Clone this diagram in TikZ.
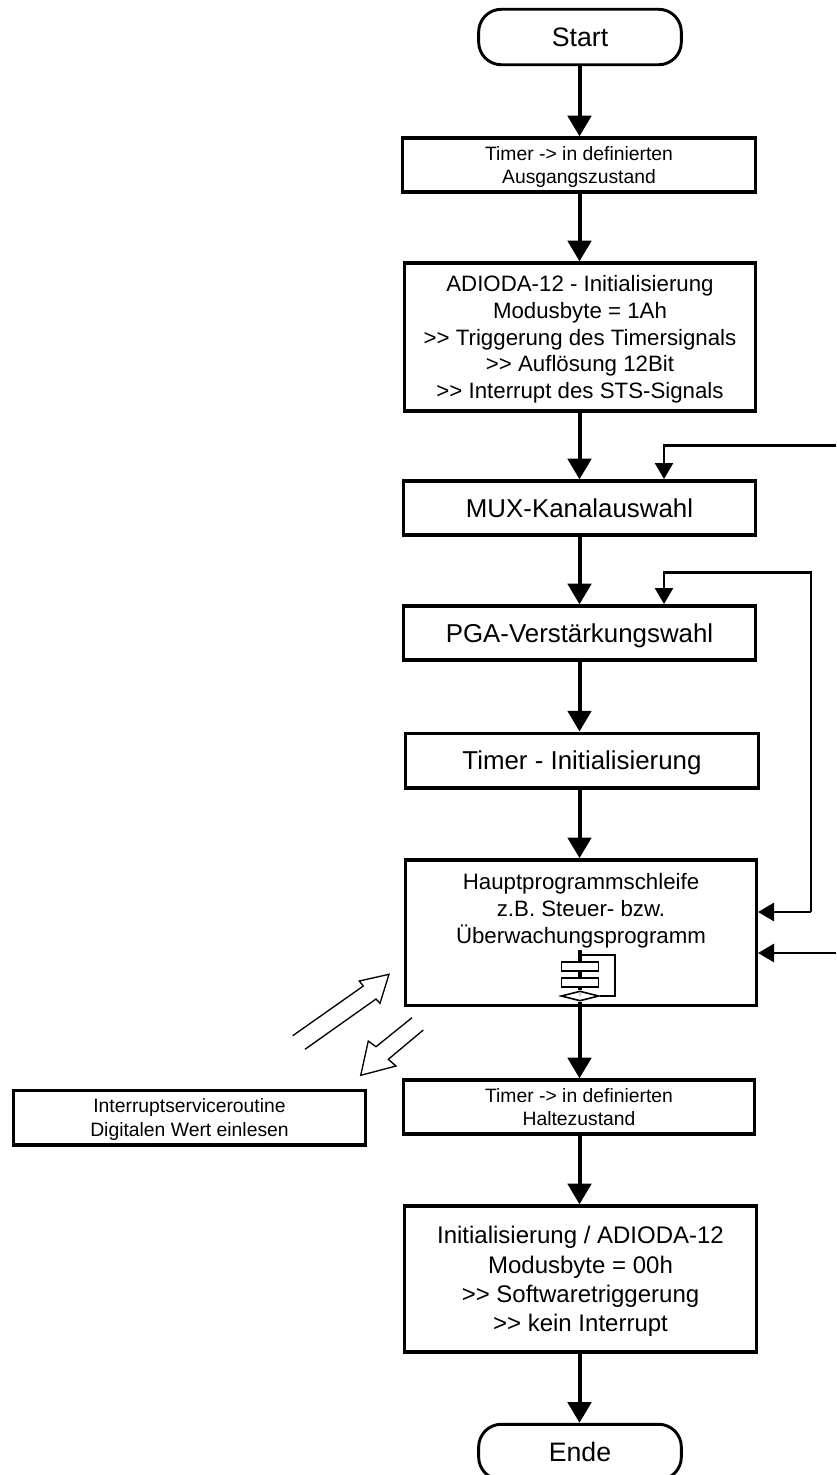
\documentclass[tikz,border=0pt]{standalone}
\usepackage{fontspec}
\setmainfont{Liberation Sans}
\usetikzlibrary{arrows.meta,shapes.geometric}
\tikzset{%
  box/.style     = {shape=rectangle, draw, line width=2.5pt, align=center, inner sep=0pt, text depth=0pt},%
  term/.style    = {box, line width=2.2pt, rounded corners=17pt, font=\fontsize{20}{24}\selectfont},%
  large/.style   = {box, font=\fontsize{19.4}{24}\selectfont},%
  medium/.style  = {box, font=\fontsize{16.7}{20}\selectfont},%
  wide/.style    = {box, font=\fontsize{18}{22}\selectfont},%
  small/.style   = {box, font=\fontsize{14.5}{17.5}\selectfont},%
  flow/.style    = {line width=3pt, -{Triangle[length=15.5pt,width=17.5pt]}},%
  back/.style    = {line width=2pt, -{Triangle[length=12pt,width=13.5pt]}},%
  mini/.style    = {shape=rectangle, draw, fill=white, line width=1.2pt, inner sep=0pt, minimum width=28pt, minimum height=7pt},%
  hollow/.style  = {line width=1pt, line join=miter}%
}
\begin{document}
\begin{tikzpicture}[x=.75pt,y=-.75pt]
	\useasboundingbox (0,0) rectangle (836,1475);
	\node [term, minimum width=152pt, minimum height=41.6pt] (start) at (580,37) {Start};
	\node [small, minimum width=265pt, minimum height=40.5pt] (timerA) at (579,165) {Timer -> in definierten\\Ausgangszustand};
	\node [medium, minimum width=263pt, minimum height=111pt] (adioda) at (580,337) {ADIODA-12 - Initialisierung\\Modusbyte = 1Ah\\>{}> Triggerung des Timersignals\\>{}> Auflösung 12Bit\\>{}> Interrupt des STS-Signals};
	\node [large, minimum width=264pt, minimum height=40.5pt] (mux) at (579.5,508) {MUX-Kanalauswahl};
	\node [large, minimum width=264pt, minimum height=40.5pt] (pga) at (579.5,633) {PGA-Verstärkungswahl};
	\node [large, minimum width=265pt, minimum height=41pt] (timerB) at (582,760.5) {Timer - Initialisierung};
	\node [medium, minimum width=263pt, minimum height=109pt] (haupt) at (581,932.5) {Hauptprogrammschleife\\z.B. Steuer- bzw.\\Überwachungsprogramm\\\mbox{}\\[-4pt]\mbox{}};
	\node [small, minimum width=263pt, minimum height=40.5pt] (timerC) at (579,1107) {Timer -> in definierten\\Haltezustand};
	\node [small, minimum width=264pt, minimum height=41pt] (isr) at (189.5,1117.5) {Interruptserviceroutine\\Digitalen Wert einlesen};
	\node [wide, minimum width=264pt, minimum height=109.5pt] (init) at (580.5,1279) {Initialisierung / ADIODA-12\\Modusbyte = 00h\\>{}> Softwaretriggerung\\>{}> kein Interrupt};
	\node [term, minimum width=152pt, minimum height=41.6pt] (ende) at (580,1452) {Ende};

	% main flow
	\coordinate (axis) at (579.5,0);
	\foreach \from/\to in {start/timerA,timerA/adioda,adioda/mux,mux/pga,pga/timerB,timerB/haupt,haupt/timerC,timerC/init,init/ende}
		\draw [flow] (\from.south -| axis) -- (\to.north -| axis);

	% feedback lines
	\coordinate (muxin) at (664,479);
	\coordinate (pgain) at (664,604);
	\coordinate (outerA) at (836,445.5);
	\coordinate (outerB) at (836,953);
	\coordinate (cornerA) at (811,572.5);
	\coordinate (hauptA) at (758,912);
	\coordinate (hauptB) at (758,953);
	\draw [back] (outerA) -| (muxin);
	\draw [back] (hauptA -| cornerA) -- (cornerA) -| (pgain);
	\draw [back] (hauptA -| cornerA) -- (hauptA);
	\draw [back] (outerB) -- (hauptB);

	% small flow chart in the main loop
	\coordinate (miniTop) at (580,950);
	\coordinate (miniLoop) at (580,955);
	\coordinate (miniRight) at (615,955);
	\node [mini] (miniA) at (580,966.5) {};
	\node [mini] (miniB) at (580,982.5) {};
	\node [shape=diamond, draw, fill=white, line width=1.2pt, inner sep=0pt, minimum width=28.5pt, minimum height=7.5pt, aspect=3.8] (miniC) at (580,996) {};
	\draw [line width=1pt] (miniLoop) -- (miniRight) |- (miniC.east);
	\draw [line width=3pt] (miniTop) -- (miniA.north);
	\draw [line width=3pt] (miniA.south) -- (miniB.north);
	\draw [line width=3pt] (miniB.south) -- (miniC.north);
	\draw [line width=3pt] (miniC.south) -- (miniC.south |- haupt.south);
	\node [font=\fontsize{4}{4}\selectfont, text=black!60, inner sep=0pt] (miniQ) at (miniC) {?};

	% hollow arrows
	\draw [hollow] (292.7,1035.7) -- (363.3,986) -- (359.3,981) -- (389,974.3) -- (380,1003.3) -- (376,999) -- (305,1049.3);
	\draw [hollow] (412,1017.7) -- (376,1046.7) -- (368.3,1041) -- (360.7,1075.3) -- (396,1066) -- (388.3,1059.3) -- (423.3,1030);
\end{tikzpicture}
\end{document}
